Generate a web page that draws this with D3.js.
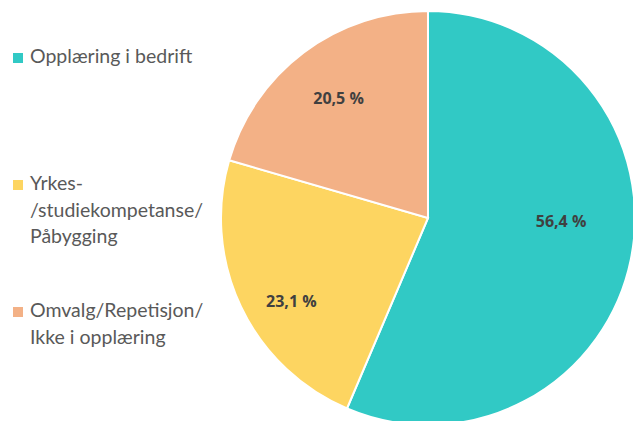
<!DOCTYPE html>
<html>
<head>
<meta charset="utf-8">
<script src="https://cdn.jsdelivr.net/npm/d3@7"></script>
<style>
  body { margin: 0; background: #fff; }
  svg { display: block; }
</style>
</head>
<body>
<div id="chart"></div>
<script>
// data
var categories = ['Opplæring i bedrift', 'Yrkes-/studiekompetanse/Påbygging', 'Omvalg/Repetisjon/Ikke i opplæring'];
var values = [56.4, 23.1, 20.5];
var colors = ['#31c9c5', '#fdd561', '#f3b186'];
var legendLines = [
	['Opplæring i bedrift'],
	['Yrkes-', '/studiekompetanse/', 'Påbygging'],
	['Omvalg/Repetisjon/', 'Ikke i opplæring']
];

var width = 633, height = 421;
var cx = 428, cy = 218, radius = 207;
//excel "best fit" moves some labels off the centroid a bit
var labelNudge = [[-13, -26], [-2, 20], [0, 0]];

var svg = d3.select('#chart').append('svg')
	.attr('width', width)
	.attr('height', height);

var data = categories.map(function(c, i){
	return {name: c, value: values[i], color: colors[i], nudge: labelNudge[i]};
});

var pie = d3.pie()
	.sort(null)
	.value(function(d){ return d.value; });

var arc = d3.arc().innerRadius(0).outerRadius(radius);
var labelArc = d3.arc().innerRadius(radius * 0.72).outerRadius(radius * 0.72);

var g = svg.append('g')
	.attr('transform', 'translate(' + cx + ',' + cy + ')');

var slices = g.selectAll('g.slice')
	.data(pie(data))
	.enter()
	.append('g')
	.attr('class', 'slice');

slices.append('path')
	.attr('d', arc)
	.attr('fill', function(d){ return d.data.color; })
	.attr('stroke', '#fff')
	.attr('stroke-width', 2);

slices.append('text')
	.attr('transform', function(d){
		var c = labelArc.centroid(d);
		return 'translate(' + (c[0] + d.data.nudge[0]) + ',' + (c[1] + d.data.nudge[1]) + ')';
	})
	.attr('text-anchor', 'middle')
	.attr('dy', '0.35em')
	.attr('font-family', '"Open Sans", sans-serif')
	.attr('font-weight', 'bold')
	.attr('font-size', 16)
	.attr('fill', '#404040')
	.text(function(d){ return d3.format('.1f')(d.data.value).replace('.', ',') + ' %'; });

// legend
var legendY = [63, 190, 317];
var lineH = 26.5;
var legend = svg.selectAll('g.legend')
	.data(legendLines)
	.enter()
	.append('g')
	.attr('class', 'legend')
	.attr('transform', function(d, i){ return 'translate(13,' + legendY[i] + ')'; });

legend.append('rect')
	.attr('x', 0)
	.attr('y', -10)
	.attr('width', 10)
	.attr('height', 10)
	.attr('fill', function(d, i){ return colors[i]; });

legend.append('text')
	.attr('font-family', 'Lato, sans-serif')
	.attr('font-size', 19.5)
	.attr('fill', '#595959')
	.selectAll('tspan')
	.data(function(d){ return d; })
	.enter()
	.append('tspan')
	.attr('x', 17)
	.attr('y', function(d, i){ return i * lineH; })
	.text(function(d){ return d; });
</script>
</body>
</html>
